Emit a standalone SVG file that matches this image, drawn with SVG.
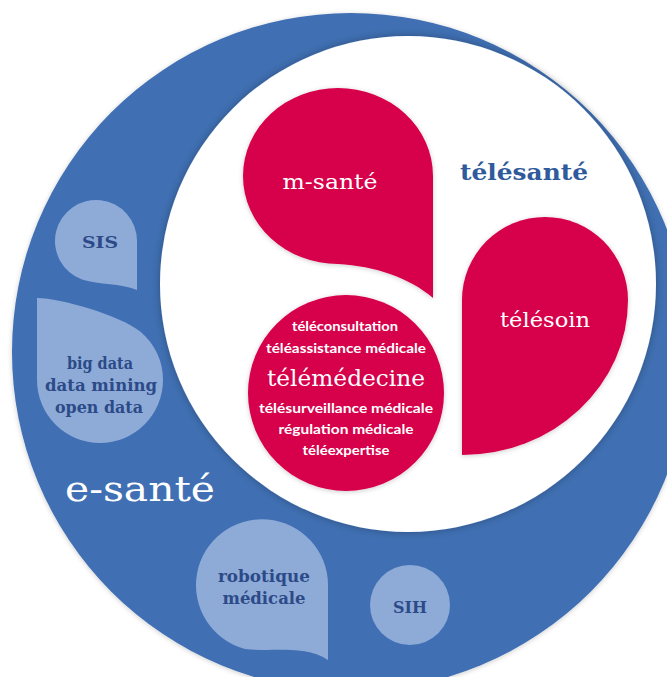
<svg xmlns="http://www.w3.org/2000/svg" width="667" height="677" viewBox="0 0 667 677">
<defs>
<style>
.blue{fill:#3f6fb3}
.light{fill:#8eabd8}
.red{fill:#d6004b}
.slab{font-family:"DejaVu Serif","Liberation Serif",serif;text-anchor:middle}
.sans{font-family:"Lato","Open Sans","Liberation Sans",sans-serif;text-anchor:middle;fill:#ffffff;font-size:13px;font-weight:bold}
.wt{fill:#ffffff}
.dk{fill:#2c4a87;font-weight:bold;font-size:17px}
</style>
<filter id="sh" x="-20%" y="-20%" width="140%" height="140%">
<feDropShadow dx="0" dy="0" stdDeviation="4" flood-color="#000000" flood-opacity="0.3"/>
</filter>
<filter id="sh2" x="-20%" y="-20%" width="140%" height="140%">
<feDropShadow dx="0" dy="1" stdDeviation="2.5" flood-color="#000000" flood-opacity="0.2"/>
</filter>
</defs>
<g id="e-sante">
<circle class="blue" cx="351" cy="352" r="339" filter="url(#sh2)"/>
<text class="slab wt" x="140" y="501" font-size="36" textLength="150" lengthAdjust="spacingAndGlyphs">e-santé</text>
</g>
<g id="telesante">
<circle cx="408" cy="284" r="248" fill="#ffffff" filter="url(#sh)"/>
<text class="slab" x="524" y="180" font-size="22" font-weight="bold" fill="#2f5a9c" textLength="128" lengthAdjust="spacingAndGlyphs">télésanté</text>
</g>
<g id="m-sante">
<path class="red" filter="url(#sh2)" d="M433,298 L433,176 A95,88 0 0 0 338,88 A95,88 0 0 0 243,176 A95,88 0 0 0 338,264 C375,266 410,278 433,298 Z"/>
<text class="slab wt" x="330" y="189" font-size="21" textLength="95" lengthAdjust="spacingAndGlyphs">m-santé</text>
</g>
<g id="telesoin">
<path class="red" filter="url(#sh2)" d="M462,455 L462,300 A83,83 0 0 1 628,300 A166,155 0 0 1 462,455 Z"/>
<text class="slab wt" x="545" y="327" font-size="21" textLength="90" lengthAdjust="spacingAndGlyphs">télésoin</text>
</g>
<g id="telemedecine">
<circle class="red" cx="346" cy="393" r="98" filter="url(#sh2)"/>
<text class="sans" x="345" y="331" textLength="106" lengthAdjust="spacingAndGlyphs">téléconsultation</text>
<text class="sans" x="346" y="353" textLength="160" lengthAdjust="spacingAndGlyphs">téléassistance médicale</text>
<text class="slab wt" x="346" y="386" font-size="22" textLength="158" lengthAdjust="spacingAndGlyphs">télémédecine</text>
<text class="sans" x="346" y="413" textLength="174" lengthAdjust="spacingAndGlyphs">télésurveillance médicale</text>
<text class="sans" x="346" y="434" textLength="135" lengthAdjust="spacingAndGlyphs">régulation médicale</text>
<text class="sans" x="346" y="455" textLength="87" lengthAdjust="spacingAndGlyphs">téléexpertise</text>
</g>
<g id="sis">
<path class="light" d="M137,290 L137,241 A41,41 0 1 0 82,279.5 C100,285 120,283 137,290 Z"/>
<text class="slab dk" x="100" y="248" textLength="36" lengthAdjust="spacingAndGlyphs">SIS</text>
</g>
<g id="big-data">
<path class="light" d="M37,298 L37,380 A63,63 0 0 0 163,380 A63,63 0 0 0 140.5,331.7 C121,315.6 60,298 37,298 Z"/>
<text class="slab dk" x="100" y="369" textLength="66" lengthAdjust="spacingAndGlyphs">big data</text>
<text class="slab dk" x="101" y="391" textLength="112" lengthAdjust="spacingAndGlyphs">data mining</text>
<text class="slab dk" x="99" y="413" textLength="88" lengthAdjust="spacingAndGlyphs">open data</text>
</g>
<g id="robotique">
<path class="light" d="M328,660 L328,585 A66,66 0 1 0 245,649 C275,652 305,645 328,660 Z"/>
<text class="slab dk" x="264" y="582" textLength="92" lengthAdjust="spacingAndGlyphs">robotique</text>
<text class="slab dk" x="264" y="604" textLength="83" lengthAdjust="spacingAndGlyphs">médicale</text>
</g>
<g id="sih">
<circle class="light" cx="410" cy="605" r="40"/>
<text class="slab dk" x="410" y="613" textLength="34" lengthAdjust="spacingAndGlyphs">SIH</text>
</g>
<g id="connectors"/>
</svg>
